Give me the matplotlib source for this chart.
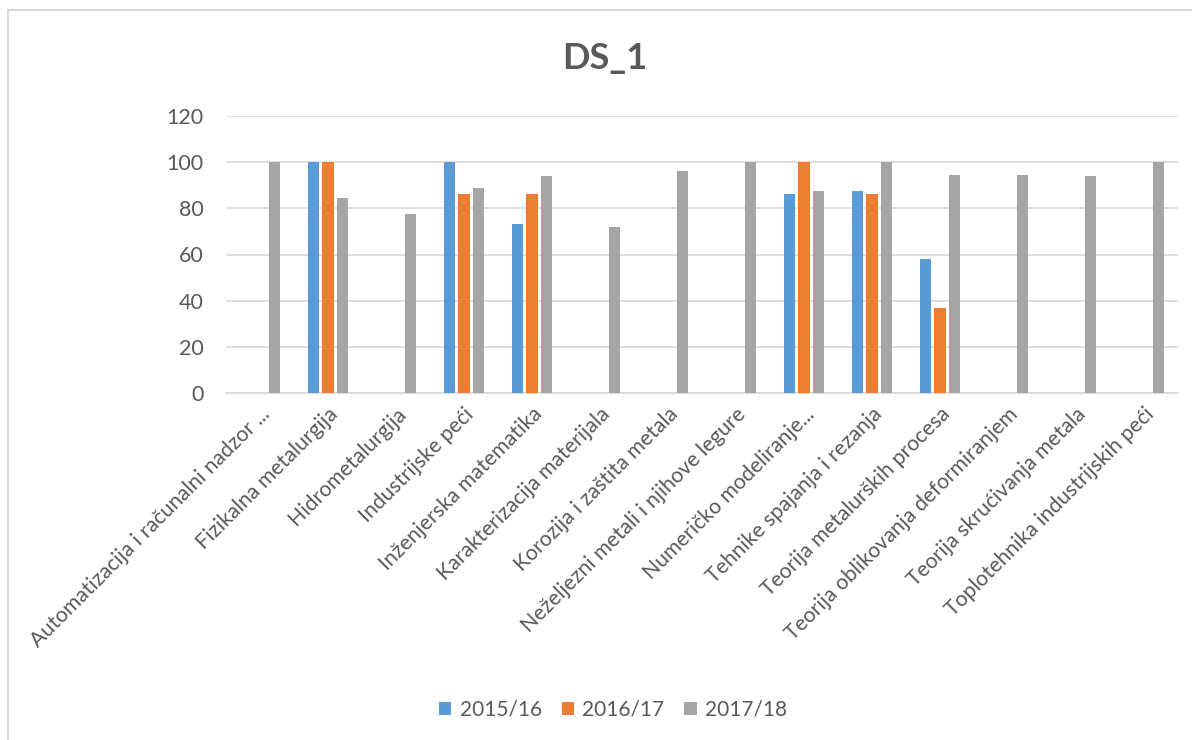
import matplotlib
matplotlib.use("Agg")
import matplotlib.pyplot as plt
import numpy as np
from matplotlib.patches import Rectangle

plt.rcParams['font.family'] = ['Lato', 'DejaVu Sans']

categories = [
    "Automatizacija i računalni nadzor ...",
    "Fizikalna metalurgija",
    "Hidrometalurgija",
    "Industrijske peći",
    "Inženjerska matematika",
    "Karakterizacija materijala",
    "Korozija i zaštita metala",
    "Neželjezni metali i njihove legure",
    "Numeričko modeliranje...",
    "Tehnike spajanja i rezanja",
    "Teorija metalurških procesa",
    "Teorija oblikovanja deformiranjem",
    "Teorija skrućivanja metala",
    "Toplotehnika industrijskih peći",
]
series_names = ["2015/16", "2016/17", "2017/18"]
s2015 = [0, 100, 0, 100, 73.2, 0, 0, 0, 86.1, 87.7, 58.0, 0, 0, 0]
s2016 = [0, 100, 0, 86.1, 86.1, 0, 0, 0, 100, 86.1, 37.0, 0, 0, 0]
s2017 = [100, 84.3, 77.5, 88.8, 93.9, 72.0, 96.1, 100, 87.7, 100, 94.3, 94.3, 93.8, 100]
colors = ["#5b9bd5", "#ed7d31", "#a5a5a5"]
yticks = [0, 20, 40, 60, 80, 100, 120]

fig = plt.figure(figsize=(11.92, 7.4), dpi=100)
# chart border
fig.patches.append(Rectangle((8/1192, -0.01), 1.1, 1 - 10/740 + 0.01, transform=fig.transFigure,
                             fill=False, edgecolor="#d9d9d9", linewidth=1.5, zorder=0))

ax = fig.add_axes([226/1192, 1 - 393/740, (1178 - 226)/1192, (393 - 116)/740])
x = np.arange(len(categories))
w = 0.162
off = 0.216
for i, (vals, c, n) in enumerate(zip([s2015, s2016, s2017], colors, series_names)):
    ax.bar(x + (i - 1) * off, vals, width=w, color=c, label=n, zorder=3)

ax.set_xlim(-0.5, len(categories) - 0.5)
ax.set_ylim(0, 120)
ax.set_yticks(yticks)
ax.yaxis.grid(True, color="#d9d9d9", linewidth=1.2, zorder=0)
for s in ["top", "right", "left"]:
    ax.spines[s].set_visible(False)
ax.spines["bottom"].set_color("#d9d9d9")
ax.spines["bottom"].set_linewidth(1.2)
ax.tick_params(axis="both", length=0, colors="#595959")
ax.tick_params(axis="y", pad=16, labelsize=15.5)
ax.set_xticks(x)
ax.set_xticklabels(categories, rotation=45, ha="right", rotation_mode="anchor", fontsize=15.3)
ax.tick_params(axis="x", pad=8)

fig.text(605/1192, 1 - 59/740, "DS_1", ha="center", va="center", fontsize=26,
         fontweight="bold", color="#595959")

handles, labels = ax.get_legend_handles_labels()
fig.legend(handles, labels, loc="center", bbox_to_anchor=(613/1192, 1 - 710/740), ncol=3,
           frameon=False, fontsize=15, labelcolor="#595959", handlelength=0.6,
           handleheight=0.6, handletextpad=0.4, columnspacing=0.95)

fig.savefig("out.png", dpi=100)
